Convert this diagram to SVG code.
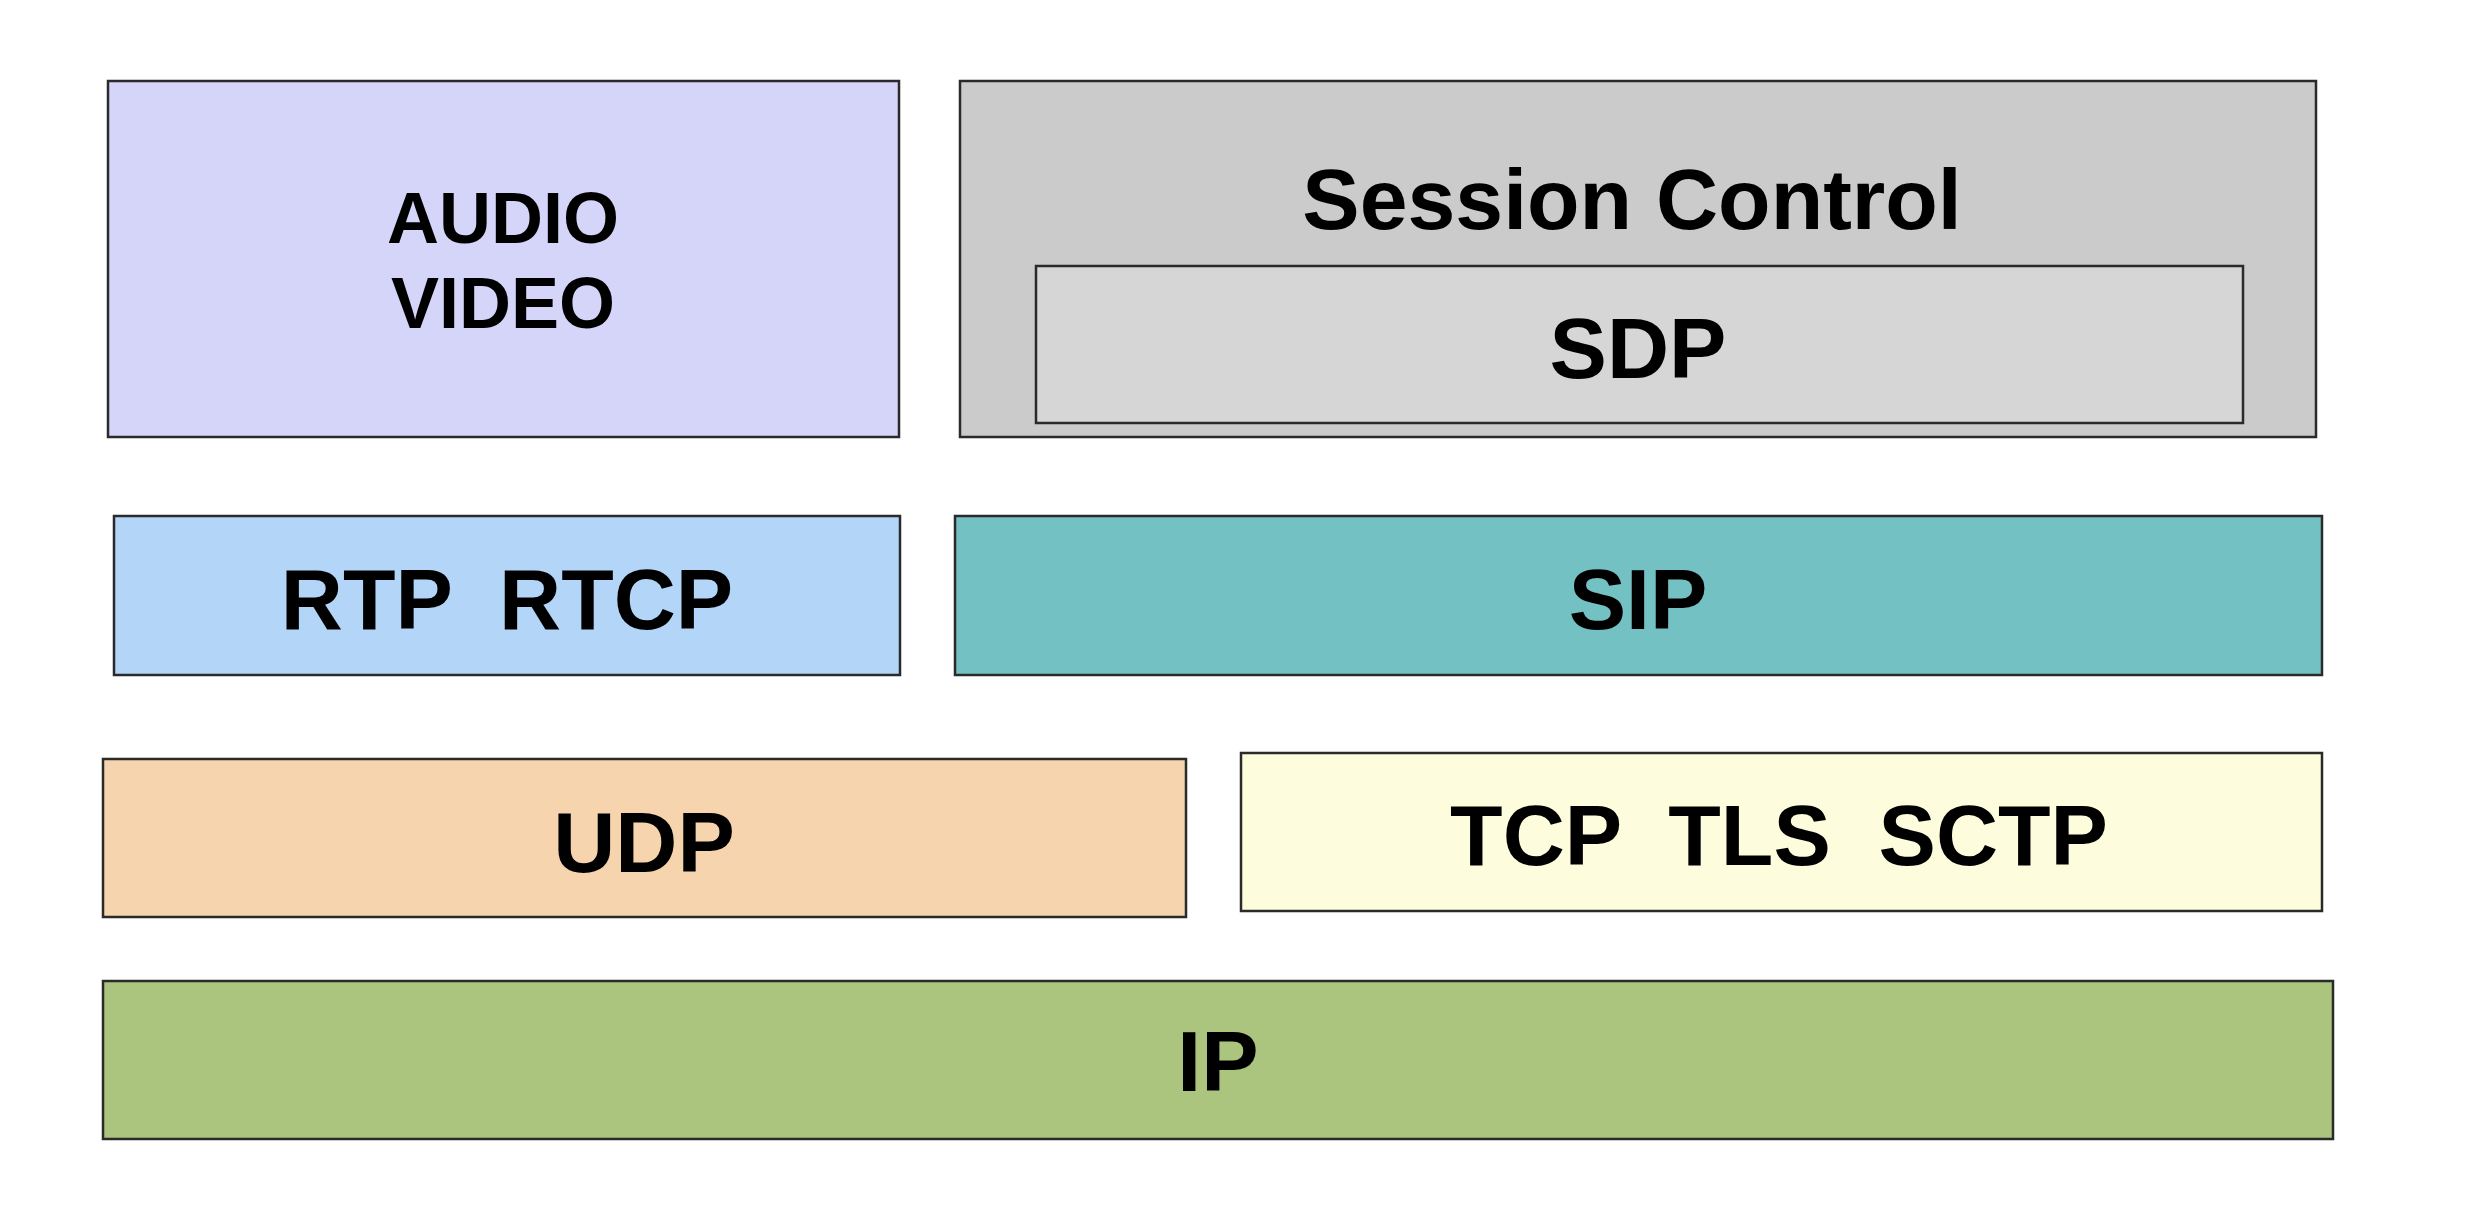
<svg xmlns="http://www.w3.org/2000/svg" width="2478" height="1232" viewBox="0 0 2478 1232">
<style>
.box{stroke:#2a2a2a;stroke-width:2.5}
.lbl{font-family:"Liberation Sans",Arial,Helvetica,sans-serif;font-weight:bold;fill:#000;text-anchor:middle}
.big{font-size:86px}
.mid{font-size:72px}
</style>
<rect width="2478" height="1232" fill="#ffffff"/>
<g id="audio-video">
<rect class="box" x="108" y="81" width="791" height="356" fill="#D5D5FA"/>
<text class="lbl mid" x="503" y="243">AUDIO</text>
<text class="lbl mid" x="503" y="328">VIDEO</text>
</g>
<g id="session-control">
<rect class="box" x="960" y="81" width="1356" height="356" fill="#CBCBCB"/>
<text class="lbl big" x="1632" y="229">Session Control</text>
</g>
<g id="sdp">
<rect class="box" x="1036" y="266" width="1207" height="157" fill="#D6D6D6"/>
<text class="lbl big" x="1638" y="378">SDP</text>
</g>
<g id="rtp-rtcp">
<rect class="box" x="114" y="516" width="786" height="159" fill="#B3D5F8"/>
<text class="lbl big" x="507" y="629" xml:space="preserve">RTP  RTCP</text>
</g>
<g id="sip">
<rect class="box" x="955" y="516" width="1367" height="159" fill="#74C1C4"/>
<text class="lbl big" x="1638" y="629">SIP</text>
</g>
<g id="udp">
<rect class="box" x="103" y="759" width="1083" height="158" fill="#F6D5AE"/>
<text class="lbl big" x="644" y="872">UDP</text>
</g>
<g id="tcp-tls-sctp">
<rect class="box" x="1241" y="753" width="1081" height="158" fill="#FDFCDC"/>
<text class="lbl big" x="1779" y="865" xml:space="preserve">TCP  TLS  SCTP</text>
</g>
<g id="ip">
<rect class="box" x="103" y="981" width="2230" height="158" fill="#ABC47E"/>
<text class="lbl big" x="1218" y="1091">IP</text>
</g>
<g id="connectors"></g>
</svg>
